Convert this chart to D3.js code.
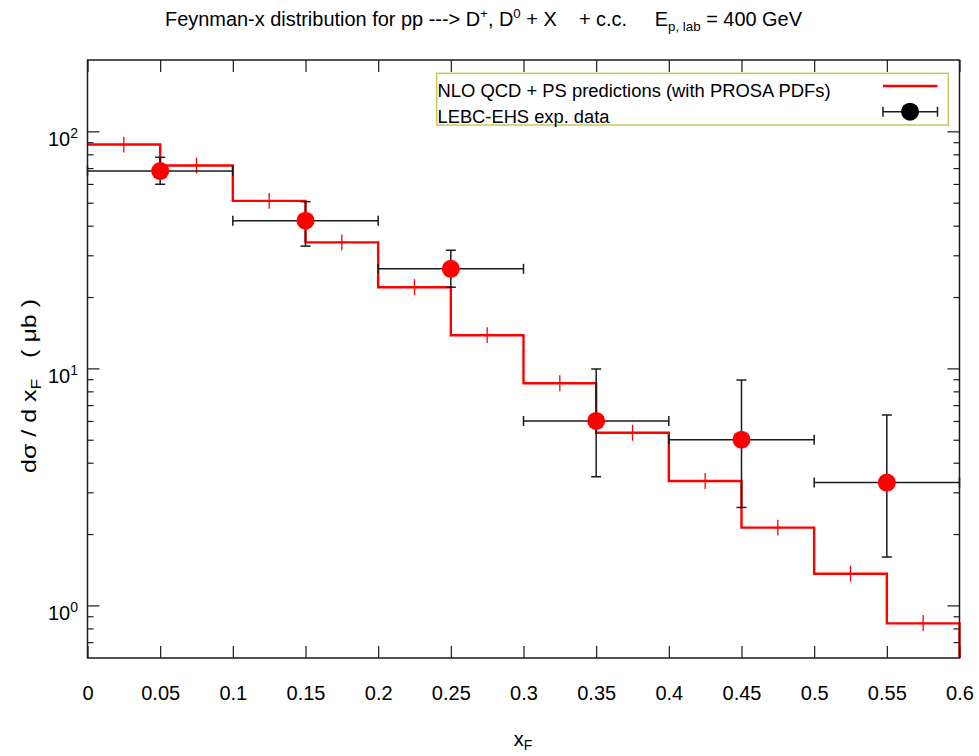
<!DOCTYPE html>
<html>
<head>
<meta charset="utf-8">
<script src="https://cdn.jsdelivr.net/npm/d3@7"></script>
<style>
  html, body { margin: 0; padding: 0; background: #ffffff; }
  svg text { font-family: "Liberation Sans", Arial, Helvetica, sans-serif; fill: #000; }
</style>
</head>
<body>
<svg id="chart" width="979" height="756"></svg>
<script>
// ---- axis ticks ----
const xTickValues = [0, 0.05, 0.1, 0.15, 0.2, 0.25, 0.3, 0.35, 0.4, 0.45, 0.5, 0.55, 0.6];
const xTickLabels = ["0", "0.05", "0.1", "0.15", "0.2", "0.25", "0.3", "0.35", "0.4", "0.45", "0.5", "0.55", "0.6"];
const yMajorTicks = [1, 10, 100];
const yMajorExponents = ["0", "1", "2"];
const yMinorTicks = [0.7, 0.8, 0.9, 2, 3, 4, 5, 6, 7, 8, 9, 20, 30, 40, 50, 60, 70, 80, 90];

// ---- NLO QCD + PS histogram (bins in x_F) ----
const nloBinLo  = [0, 0.05, 0.1, 0.15, 0.2, 0.25, 0.3, 0.35, 0.4, 0.45, 0.5, 0.55];
const nloBinHi  = [0.05, 0.1, 0.15, 0.2, 0.25, 0.3, 0.35, 0.4, 0.45, 0.5, 0.55, 0.6];
const nloValues = [88.0, 71.8, 50.9, 34.0, 22.0, 13.8, 8.65, 5.35, 3.35, 2.13, 1.36, 0.84];
const nloErrLo  = [81.5, 66.5, 47.1, 31.5, 20.4, 12.8, 8.0, 4.95, 3.10, 1.97, 1.26, 0.78];
const nloErrHi  = [95.0, 77.5, 55.0, 36.7, 23.8, 14.9, 9.35, 5.78, 3.62, 2.30, 1.47, 0.91];

// ---- LEBC-EHS measurements ----
const dataX   = [0.05, 0.15, 0.25, 0.35, 0.45, 0.55];
const dataXLo = [0, 0.1, 0.2, 0.3, 0.4, 0.5];
const dataXHi = [0.1, 0.2, 0.3, 0.4, 0.5, 0.6];
const dataY   = [68.0, 42.0, 26.3, 6.0, 5.0, 3.3];
const dataYLo = [59.8, 32.8, 22.0, 3.49, 2.59, 1.60];
const dataYHi = [77.7, 50.5, 31.5, 9.94, 8.93, 6.36];

const legendLabels = ["NLO QCD + PS predictions (with PROSA PDFs)", "LEBC-EHS exp. data"];

// ---- layout ----
const L = 87.5, R = 959.5, T = 60, B = 658;
const svg = d3.select("#chart");
const x = d3.scaleLinear().domain([0, 0.6]).range([L, R]);
const y = d3.scaleLog().domain([0.6, 200]).range([B, T]);

const RED = "#ff0000";
const INK = "#1a1a1a";

// ---- axes (ticks point inward, gnuplot style) ----
function styleAxis(g) {
  g.select(".domain").remove();
  g.selectAll(".tick line").attr("stroke", INK).attr("stroke-width", 1.2);
}

svg.append("g")
  .attr("transform", `translate(0,${B})`)
  .call(d3.axisBottom(x).tickValues(xTickValues)
    .tickFormat((d, i) => xTickLabels[i])
    .tickSize(-12).tickSizeOuter(0).tickPadding(28))
  .call(styleAxis)
  .call(g => g.selectAll(".tick text")
    .attr("font-size", 20)
    .attr("font-family", "Liberation Sans, Arial, sans-serif")
    .attr("fill", "#000"));

svg.append("g")
  .attr("transform", `translate(0,${T})`)
  .call(d3.axisTop(x).tickValues(xTickValues).tickFormat("").tickSize(-12).tickSizeOuter(0))
  .call(styleAxis);

svg.append("g")
  .attr("transform", `translate(${L},0)`)
  .call(d3.axisLeft(y).tickValues(yMajorTicks).tickFormat("").tickSize(-12).tickSizeOuter(0))
  .call(styleAxis);
svg.append("g")
  .attr("transform", `translate(${L},0)`)
  .call(d3.axisLeft(y).tickValues(yMinorTicks).tickFormat("").tickSize(-6).tickSizeOuter(0))
  .call(styleAxis);
svg.append("g")
  .attr("transform", `translate(${R},0)`)
  .call(d3.axisRight(y).tickValues(yMajorTicks).tickFormat("").tickSize(-12).tickSizeOuter(0))
  .call(styleAxis);
svg.append("g")
  .attr("transform", `translate(${R},0)`)
  .call(d3.axisRight(y).tickValues(yMinorTicks).tickFormat("").tickSize(-6).tickSizeOuter(0))
  .call(styleAxis);

// y tick labels as powers of ten
const yLab = svg.append("g").selectAll("text")
  .data(yMajorTicks)
  .join("text")
  .attr("x", 78)
  .attr("y", d => y(d) + 15)
  .attr("text-anchor", "end")
  .attr("font-size", 20);
yLab.append("tspan").text("10");
yLab.append("tspan").attr("font-size", 14).attr("dy", -8)
  .text((d, i) => yMajorExponents[i]);

// ---- NLO histogram steps ----
const stepPts = [];
nloValues.forEach((v, i) => {
  stepPts.push([nloBinLo[i], v]);
  stepPts.push([nloBinHi[i], v]);
});
stepPts.push([nloBinHi[nloBinHi.length - 1], 0.6]);
svg.append("path")
  .datum(stepPts)
  .attr("fill", "none")
  .attr("stroke", RED)
  .attr("stroke-width", 2.4)
  .attr("stroke-linejoin", "miter")
  .attr("d", d3.line().x(d => x(d[0])).y(d => y(d[1])));

// bin-centre markers with MC uncertainty
const nloG = svg.append("g").attr("stroke", RED).attr("stroke-width", 1.3);
nloValues.forEach((v, i) => {
  const xc = x((nloBinLo[i] + nloBinHi[i]) / 2);
  nloG.append("line").attr("x1", xc - 5.5).attr("x2", xc + 5.5)
    .attr("y1", y(v)).attr("y2", y(v));
  nloG.append("line").attr("x1", xc).attr("x2", xc)
    .attr("y1", y(nloErrLo[i])).attr("y2", y(nloErrHi[i]));
});

// ---- measurements: error bars ----
const errG = svg.append("g").attr("stroke", INK).attr("stroke-width", 1.5);
const cap = 5;
dataX.forEach((xv, i) => {
  const yc = y(dataY[i]);
  errG.append("line").attr("x1", x(dataXLo[i])).attr("x2", x(dataXHi[i]))
    .attr("y1", yc).attr("y2", yc);
  errG.append("line").attr("x1", x(dataXLo[i])).attr("x2", x(dataXLo[i]))
    .attr("y1", yc - cap).attr("y2", yc + cap);
  errG.append("line").attr("x1", x(dataXHi[i])).attr("x2", x(dataXHi[i]))
    .attr("y1", yc - cap).attr("y2", yc + cap);
  const xc = x(xv);
  errG.append("line").attr("x1", xc).attr("x2", xc)
    .attr("y1", y(dataYLo[i])).attr("y2", y(dataYHi[i]));
  errG.append("line").attr("x1", xc - cap).attr("x2", xc + cap)
    .attr("y1", y(dataYLo[i])).attr("y2", y(dataYLo[i]));
  errG.append("line").attr("x1", xc - cap).attr("x2", xc + cap)
    .attr("y1", y(dataYHi[i])).attr("y2", y(dataYHi[i]));
});
svg.append("g").selectAll("circle")
  .data(dataX)
  .join("circle")
  .attr("cx", d => x(d))
  .attr("cy", (d, i) => y(dataY[i]))
  .attr("r", 9)
  .attr("fill", RED);

// ---- frame ----
svg.append("rect")
  .attr("x", L).attr("y", T).attr("width", R - L).attr("height", B - T)
  .attr("fill", "none").attr("stroke", INK).attr("stroke-width", 1.5);

// ---- legend ----
const leg = svg.append("g");
leg.append("rect")
  .attr("x", 436.7).attr("y", 73.3).attr("width", 511.6).attr("height", 51.7)
  .attr("fill", "#fff").attr("stroke", "#c8c860").attr("stroke-width", 1.5);
leg.append("text").attr("x", 437.5).attr("y", 96.7).attr("font-size", 18)
  .attr("textLength", 393).attr("lengthAdjust", "spacingAndGlyphs")
  .text(legendLabels[0]);
leg.append("text").attr("x", 437.5).attr("y", 123).attr("font-size", 18)
  .attr("textLength", 172).attr("lengthAdjust", "spacingAndGlyphs")
  .text(legendLabels[1]);
leg.append("line").attr("x1", 883).attr("x2", 937.5).attr("y1", 86).attr("y2", 86)
  .attr("stroke", RED).attr("stroke-width", 2.6);
leg.append("line").attr("x1", 883).attr("x2", 937.5).attr("y1", 111.7).attr("y2", 111.7)
  .attr("stroke", INK).attr("stroke-width", 1.5);
leg.append("line").attr("x1", 883).attr("x2", 883).attr("y1", 106.7).attr("y2", 116.7)
  .attr("stroke", INK).attr("stroke-width", 1.5);
leg.append("line").attr("x1", 937.5).attr("x2", 937.5).attr("y1", 106.7).attr("y2", 116.7)
  .attr("stroke", INK).attr("stroke-width", 1.5);
leg.append("circle").attr("cx", 910).attr("cy", 111.7).attr("r", 9).attr("fill", "#000");

// ---- title ----
const title = svg.append("text").attr("x", 165).attr("y", 26).attr("font-size", 19.5)
  .attr("textLength", 637).attr("lengthAdjust", "spacingAndGlyphs")
  .style("white-space", "pre");
title.append("tspan").text("Feynman-x distribution for pp ---> D");
title.append("tspan").attr("font-size", 13).attr("dy", -8).text("+");
title.append("tspan").attr("dy", 8).text(", D");
title.append("tspan").attr("font-size", 13).attr("dy", -8).text("0");
title.append("tspan").attr("dy", 8).text(" + X    + c.c.     E");
title.append("tspan").attr("font-size", 13).attr("dy", 5).text("p, lab");
title.append("tspan").attr("dy", -5).text(" = 400 GeV");

// ---- axis titles ----
const xt = svg.append("text").attr("x", 523).attr("y", 746).attr("text-anchor", "middle")
  .attr("font-size", 20);
xt.append("tspan").text("x");
xt.append("tspan").attr("font-size", 14).attr("dy", 4).text("F");

const yt = svg.append("text")
  .attr("transform", "translate(36,386) rotate(-90)")
  .attr("text-anchor", "middle").attr("font-size", 20)
  .attr("textLength", 174).attr("lengthAdjust", "spacingAndGlyphs")
  .style("white-space", "pre");
yt.append("tspan").text("dσ / d x");
yt.append("tspan").attr("font-size", 14).attr("dy", 5).text("F");
yt.append("tspan").attr("dy", -5).text("   ( μb )");
</script>
</body>
</html>
